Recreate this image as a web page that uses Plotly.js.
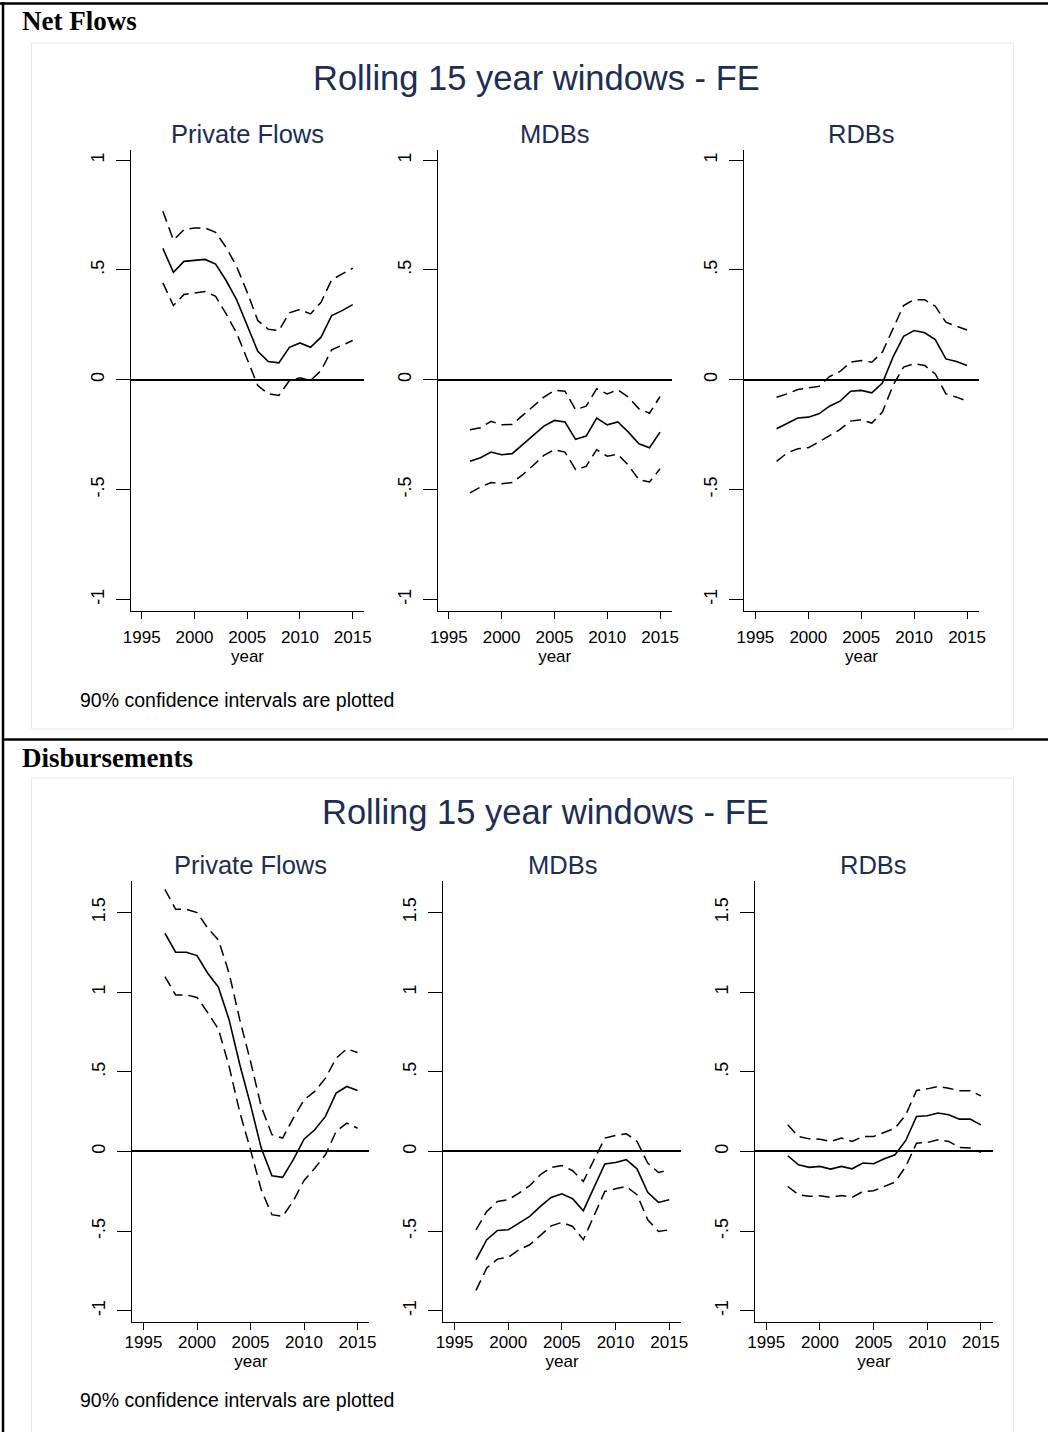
<!DOCTYPE html>
<html><head><meta charset="utf-8">
<script src="https://cdn.plot.ly/plotly-3.0.1.min.js"></script>
<style>html,body{margin:0;padding:0;background:#fff}#chart{width:1048px;height:1432px}</style>
</head><body><div id="chart"></div>
<script>
const years = [1997,1998,1999,2000,2001,2002,2003,2004,2005,2006,2007,2008,2009,2010,2011,2012,2013,2014,2015];

const netPrivMid = [0.598,0.489,0.539,0.542,0.548,0.527,0.452,0.364,0.247,0.130,0.083,0.077,0.148,0.168,0.148,0.194,0.292,0.315,0.342];
const netPrivHi  = [0.767,0.636,0.683,0.691,0.691,0.671,0.603,0.515,0.398,0.270,0.230,0.224,0.305,0.320,0.300,0.353,0.455,0.482,0.508];
const netPrivLo  = [0.441,0.338,0.388,0.394,0.402,0.380,0.300,0.212,0.095,-0.026,-0.064,-0.071,-0.003,0.009,-0.003,0.042,0.136,0.156,0.179];

const netMdbMid = [-0.371,-0.355,-0.329,-0.341,-0.336,-0.294,-0.253,-0.211,-0.185,-0.192,-0.271,-0.256,-0.174,-0.205,-0.192,-0.238,-0.291,-0.309,-0.238];
const netMdbHi  = [-0.227,-0.218,-0.189,-0.205,-0.203,-0.162,-0.124,-0.079,-0.048,-0.052,-0.136,-0.120,-0.041,-0.064,-0.045,-0.079,-0.132,-0.152,-0.076];
const netMdbLo  = [-0.515,-0.488,-0.468,-0.473,-0.468,-0.432,-0.389,-0.344,-0.318,-0.329,-0.409,-0.394,-0.318,-0.348,-0.339,-0.389,-0.455,-0.465,-0.405];

const netRdbMid = [-0.223,-0.197,-0.174,-0.170,-0.155,-0.120,-0.097,-0.052,-0.048,-0.059,-0.015,0.103,0.198,0.224,0.214,0.183,0.095,0.083,0.065];
const netRdbHi  = [-0.079,-0.064,-0.044,-0.038,-0.030,0.015,0.038,0.080,0.088,0.080,0.126,0.232,0.338,0.365,0.364,0.335,0.262,0.244,0.227];
const netRdbLo  = [-0.371,-0.333,-0.314,-0.309,-0.283,-0.253,-0.226,-0.188,-0.182,-0.197,-0.147,-0.026,0.058,0.073,0.065,0.027,-0.064,-0.079,-0.097];

const disPrivMid = [1.370,1.251,1.251,1.230,1.119,1.031,0.826,0.544,0.293,0.021,-0.153,-0.163,-0.052,0.077,0.136,0.220,0.366,0.408,0.383];
const disPrivHi  = [1.646,1.521,1.521,1.500,1.402,1.328,1.119,0.826,0.565,0.282,0.105,0.084,0.209,0.324,0.377,0.460,0.586,0.644,0.621];
const disPrivLo  = [1.098,0.983,0.983,0.967,0.872,0.768,0.533,0.245,0.010,-0.241,-0.397,-0.408,-0.310,-0.182,-0.105,-0.021,0.126,0.178,0.146];

const disMdbMid = [-0.680,-0.554,-0.496,-0.492,-0.450,-0.408,-0.345,-0.289,-0.266,-0.297,-0.372,-0.230,-0.079,-0.069,-0.052,-0.109,-0.257,-0.320,-0.303];
const disMdbHi  = [-0.492,-0.377,-0.314,-0.303,-0.262,-0.215,-0.146,-0.100,-0.088,-0.121,-0.188,-0.052,0.084,0.100,0.111,0.063,-0.073,-0.132,-0.115];
const disMdbLo  = [-0.872,-0.732,-0.676,-0.665,-0.617,-0.586,-0.527,-0.467,-0.446,-0.471,-0.554,-0.408,-0.251,-0.234,-0.220,-0.272,-0.429,-0.502,-0.492];

const disRdbMid = [-0.027,-0.084,-0.100,-0.094,-0.111,-0.094,-0.109,-0.073,-0.077,-0.046,-0.021,0.069,0.220,0.224,0.241,0.230,0.203,0.203,0.167];
const disRdbHi  = [0.167,0.094,0.079,0.077,0.063,0.084,0.063,0.094,0.094,0.121,0.146,0.230,0.383,0.393,0.408,0.397,0.381,0.381,0.349];
const disRdbLo  = [-0.220,-0.272,-0.282,-0.278,-0.289,-0.276,-0.289,-0.251,-0.247,-0.220,-0.192,-0.094,0.052,0.056,0.073,0.063,0.025,0.021,-0.006];

const xTickVals = [1995,2000,2005,2010,2015];
const yTickValsTop = [-1,-0.5,0,0.5,1];
const yTickTextTop = ["-1","-.5","0",".5","1"];
const yTickValsBot = [-1,-0.5,0,0.5,1,1.5];
const yTickTextBot = ["-1","-.5","0",".5","1","1.5"];

const panelTitles = ["Private Flows","MDBs","RDBs"];
const sectionLabels = ["Net Flows","Disbursements"];
const mainTitle = "Rolling 15 year windows - FE";
const noteText = "90% confidence intervals are plotted";
const xTitle = "year";

// ---- geometry (pixels) ----
const W = 1048, H = 1432;
const PX = v => v / W, PY = v => 1 - v / H;

const panels = [
  {mid: netPrivMid, hi: netPrivHi, lo: netPrivLo, x0: 130.7, x1: 364.3, y0: 150, y1: 610.7, yr: [-1.051, 1.046], top: true},
  {mid: netMdbMid,  hi: netMdbHi,  lo: netMdbLo,  x0: 437.7, x1: 671.7, y0: 150, y1: 610.7, yr: [-1.051, 1.046], top: true},
  {mid: netRdbMid,  hi: netRdbHi,  lo: netRdbLo,  x0: 744.3, x1: 978.7, y0: 150, y1: 610.7, yr: [-1.051, 1.046], top: true},
  {mid: disPrivMid, hi: disPrivHi, lo: disPrivLo, x0: 132.3, x1: 369.3, y0: 880.7, y1: 1321.7, yr: [-1.069, 1.70], top: false},
  {mid: disMdbMid,  hi: disMdbHi,  lo: disMdbLo,  x0: 443.3, x1: 681.0, y0: 880.7, y1: 1321.7, yr: [-1.069, 1.70], top: false},
  {mid: disRdbMid,  hi: disRdbHi,  lo: disRdbLo,  x0: 755.0, x1: 992.7, y0: 880.7, y1: 1321.7, yr: [-1.069, 1.70], top: false}
];

const font = "Liberation Sans, Arial, sans-serif";
const navy = "#1d2d55";
const traces = [];
const layout = {
  width: W, height: H,
  margin: {l: 0, r: 0, t: 0, b: 0},
  paper_bgcolor: "#ffffff", plot_bgcolor: "#ffffff",
  showlegend: false,
  font: {family: font, color: "#000"},
  shapes: [], annotations: []
};

panels.forEach((p, i) => {
  const n = i + 1;
  const xa = "x" + (n === 1 ? "" : n), ya = "y" + (n === 1 ? "" : n);
  const dashStyle = {color: "#000", width: 1.5, dash: "11px,6px"};
  traces.push({x: years, y: p.lo, xaxis: xa, yaxis: ya, mode: "lines", line: dashStyle, hoverinfo: "skip"});
  traces.push({x: years, y: p.hi, xaxis: xa, yaxis: ya, mode: "lines", line: dashStyle, hoverinfo: "skip"});
  traces.push({x: years, y: p.mid, xaxis: xa, yaxis: ya, mode: "lines", line: {color: "#000", width: 1.6}, hoverinfo: "skip"});

  layout["xaxis" + (n === 1 ? "" : n)] = {
    domain: [PX(p.x0), PX(p.x1)], anchor: ya,
    range: [1993.95, 2016.1], fixedrange: true,
    showgrid: false, zeroline: false,
    showline: true, linecolor: "#000", linewidth: 1,
    ticks: "outside", ticklen: 7, tickwidth: 1, tickcolor: "#000",
    tickmode: "array", tickvals: xTickVals, ticktext: xTickVals.map(String),
    ticklabelstandoff: p.top ? 4 : -2,
    tickfont: {family: font, size: 17, color: "#000"},
    title: {text: xTitle, font: {family: font, size: 17, color: "#000"}, standoff: 0}
  };
  layout["yaxis" + (n === 1 ? "" : n)] = {
    domain: [PY(p.y1), PY(p.y0)], anchor: xa,
    range: p.yr, fixedrange: true,
    showgrid: false,
    zeroline: true, zerolinecolor: "#000", zerolinewidth: 2,
    showline: true, linecolor: "#000", linewidth: 1,
    ticks: "outside", ticklen: 14, tickwidth: 1, tickcolor: "#000",
    tickmode: "array",
    tickvals: p.top ? yTickValsTop : yTickValsBot,
    ticktext: p.top ? yTickTextTop : yTickTextBot,
    tickangle: -90,
    ticklabelstandoff: 5,
    tickfont: {family: font, size: 18, color: "#000"}
  };

  layout.annotations.push({
    text: panelTitles[i % 3], xref: "paper", yref: "paper",
    x: PX((p.x0 + p.x1) / 2), y: PY(p.top ? 134 : 865),
    xanchor: "center", yanchor: "middle", showarrow: false,
    font: {family: font, size: 25.5, color: navy}
  });
});

// section labels, main titles, notes
[[0, 21, 536, 78, 700], [1, 758, 545, 812, 1400]].forEach(([k, ys, xt, yt, yn]) => {
  layout.annotations.push({
    text: "<b>" + sectionLabels[k] + "</b>", xref: "paper", yref: "paper",
    x: PX(20), y: PY(ys), xanchor: "left", yanchor: "middle", showarrow: false,
    font: {family: "Liberation Serif, Times New Roman, serif", size: 27, color: "#000"}
  });
  layout.annotations.push({
    text: mainTitle, xref: "paper", yref: "paper",
    x: PX(xt), y: PY(yt), xanchor: "center", yanchor: "middle", showarrow: false,
    font: {family: font, size: 34.5, color: navy}
  });
  layout.annotations.push({
    text: noteText, xref: "paper", yref: "paper",
    x: PX(78), y: PY(yn), xanchor: "left", yanchor: "middle", showarrow: false,
    font: {family: font, size: 19.5, color: "#000"}
  });
});

// document borders and graph region outlines
const ln = (x0, y0, x1, y1, color, width) => ({type: "line", xref: "paper", yref: "paper",
  x0: PX(x0), y0: PY(y0), x1: PX(x1), y1: PY(y1), line: {color: color, width: width}, layer: "above"});
layout.shapes.push({type: "rect", xref: "paper", yref: "paper", x0: PX(31.5), x1: PX(1013.5), y0: PY(729), y1: PY(43),
  line: {color: "#e3eaec", width: 1}, layer: "below"});
layout.shapes.push({type: "rect", xref: "paper", yref: "paper", x0: PX(31.5), x1: PX(1013.5), y0: PY(1445), y1: PY(778),
  line: {color: "#e3eaec", width: 1}, layer: "below"});
layout.shapes.push(ln(0, 3.5, 1048, 3.5, "#000", 2.5));
layout.shapes.push(ln(3, 2.5, 3, 1432, "#000", 2.5));
layout.shapes.push(ln(3, 739.5, 1048, 739.5, "#000", 2.5));

Plotly.newPlot("chart", traces, layout, {staticPlot: true, displayModeBar: false});
</script>
</body></html>
